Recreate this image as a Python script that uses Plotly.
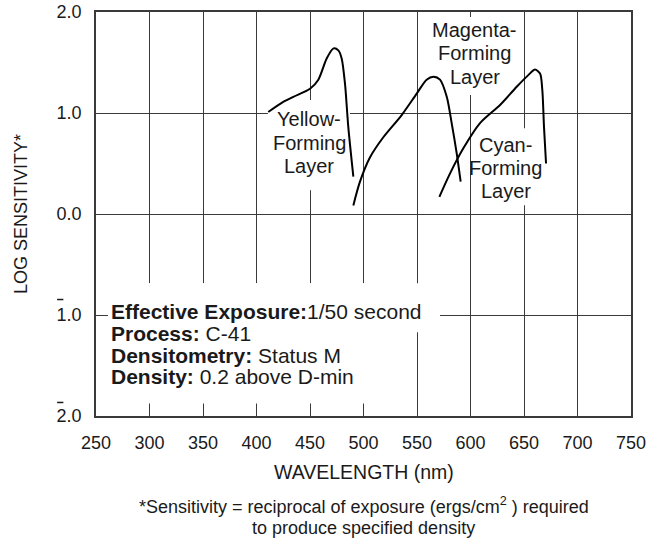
import plotly.graph_objects as go

# ---- data ----
yellow_x = [411, 425, 434.4, 450, 457.8, 465.6, 472, 476.5, 479.6, 482.7, 485.8, 490.5]
yellow_y = [1.01, 1.11, 1.16, 1.24, 1.33, 1.54, 1.64, 1.62, 1.54, 1.29, 0.86, 0.37]

magenta_x = [490.5, 496.7, 506, 518.5, 535.7, 549.6, 559, 565.3, 571.5, 577.8, 582.4, 587.1, 590.8]
magenta_y = [0.085, 0.32, 0.56, 0.76, 0.98, 1.19, 1.33, 1.36, 1.33, 1.16, 0.90, 0.60, 0.32]

cyan_x = [570.9, 580.8, 593.3, 608.9, 627.6, 643.2, 654, 660.3, 665, 667.1, 668.7, 670.6]
cyan_y = [0.17, 0.40, 0.65, 0.90, 1.08, 1.26, 1.375, 1.43, 1.39, 1.23, 0.86, 0.50]

x_ticks = list(range(250, 751, 50))
y_tickvals = [2, 1, 0, -1, -2]
y_ticktext = ["2.0", "1.0", "0.0", "1.0", "2.0"]

FONT = "Liberation Sans, Arial, Helvetica, sans-serif"
TXT = "#1a1a1a"
GRID = "#3a3a3a"

fig = go.Figure()
for xs, ys in [(yellow_x, yellow_y), (magenta_x, magenta_y), (cyan_x, cyan_y)]:
    fig.add_trace(go.Scatter(x=xs, y=ys, mode="lines",
                             line=dict(color="black", width=2, shape="spline", smoothing=0.8),
                             showlegend=False, hoverinfo="skip"))

# white patches that interrupt the grid behind labels / text block
patches = [
    (261.2, 571.5, -0.686, -1.171),   # first line of info block
    (261.2, 504.2, -0.686, -1.875),   # rest of info block
    (410.7, 487.4, 1.128, 0.236),     # yellow label
    (562.2, 644.4, 1.95, 1.177),      # magenta label
    (604.0, 670.0, 0.85, 0.087),      # cyan label
]
shapes = []
for x0, x1, y0, y1 in patches:
    shapes.append(dict(type="rect", xref="x", yref="y", x0=x0, x1=x1, y0=y0, y1=y1,
                       fillcolor="white", line=dict(width=0), layer="between"))

# overbars on the negative characteristic tick labels
for yp in [0.2883, 0.0335]:
    shapes.append(dict(type="line", xref="paper", yref="paper",
                       x0=-0.0727, x1=-0.0610, y0=yp, y1=yp,
                       line=dict(color=TXT, width=1.5)))

annotations = []
def label(lines, xc, y_first, step, size=20):
    for i, t in enumerate(lines):
        annotations.append(dict(text=t, x=xc, y=y_first - i * step, xref="x", yref="y",
                                showarrow=False, xanchor="center", yanchor="middle",
                                font=dict(family=FONT, size=size, color=TXT)))

label(["Yellow-", "Forming", "Layer"], 449.5, 0.94, 0.233)
label(["Magenta-", "Forming", "Layer"], 604.0, 1.822, 0.231)
label(["Cyan-", "Forming", "Layer"], 633.0, 0.682, 0.225)

info = [("Effective Exposure:", "1/50 second"),
        ("Process:", "C-41"),
        ("Densitometry:", "Status M"),
        ("Density:", "0.2 above D-min")]
for i, (b, r) in enumerate(info):
    annotations.append(dict(text=f"<b>{b}</b>{'' if i == 0 else ' '}{r}", x=262.0, y=-0.968 - i * 0.2145,
                            xref="x", yref="y", showarrow=False, xanchor="left", yanchor="middle",
                            font=dict(family=FONT, size=21, color=TXT)))

annotations.append(dict(text="WAVELENGTH (nm)", x=0.5, y=-0.1387, xref="paper", yref="paper",
                        showarrow=False, xanchor="center", yanchor="middle",
                        font=dict(family=FONT, size=19.5, color=TXT)))
annotations.append(dict(text="*Sensitivity = reciprocal of exposure (ergs/cm<sup>2</sup> ) required",
                        x=0.5, y=-0.2221, xref="paper", yref="paper", showarrow=False,
                        xanchor="center", yanchor="middle", font=dict(family=FONT, size=18, color=TXT)))
annotations.append(dict(text="to produce specified density",
                        x=0.5, y=-0.2766, xref="paper", yref="paper", showarrow=False,
                        xanchor="center", yanchor="middle", font=dict(family=FONT, size=18, color=TXT)))
annotations.append(dict(text="LOG SENSITIVITY*", x=-0.14, y=0.5, xref="paper", yref="paper",
                        showarrow=False, textangle=-90, xanchor="center", yanchor="middle",
                        font=dict(family=FONT, size=18, color=TXT)))

fig.update_layout(
    width=666, height=544,
    margin=dict(l=96, r=35, t=12, b=128, autoexpand=False),
    paper_bgcolor="white", plot_bgcolor="white",
    shapes=shapes, annotations=annotations,
    font=dict(family=FONT, color=TXT),
)
fig.update_xaxes(range=[250, 750], tickvals=x_ticks, showgrid=True, gridcolor=GRID, gridwidth=1.4,
                 showline=True, linecolor=GRID, linewidth=1.6, mirror=True, ticks="",
                 tickfont=dict(family=FONT, size=18, color=TXT), ticklabelstandoff=10,
                 zeroline=False, fixedrange=True, automargin=False)
fig.update_yaxes(range=[-2, 2], tickvals=y_tickvals, ticktext=y_ticktext, showgrid=True,
                 gridcolor=GRID, gridwidth=1.4, showline=True, linecolor=GRID, linewidth=1.6,
                 mirror=True, ticks="", tickfont=dict(family=FONT, size=18, color=TXT),
                 ticklabelstandoff=9, zeroline=False, fixedrange=True, automargin=False)

fig.write_html("out.html", config={"displayModeBar": False},
               post_script="document.body.style.margin='0';document.body.style.overflow='hidden';")
